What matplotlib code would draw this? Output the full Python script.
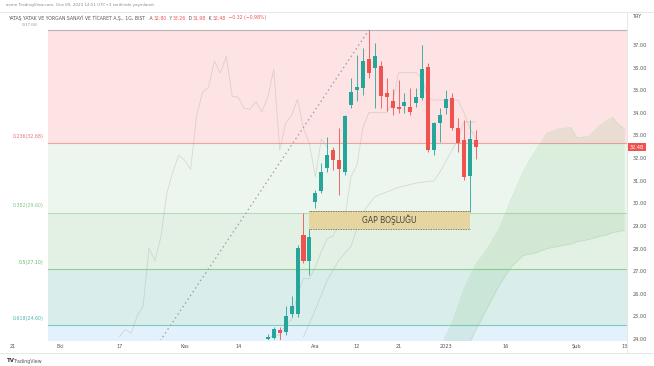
import numpy as np
import pandas as pd
import matplotlib
matplotlib.use("Agg")
import matplotlib.pyplot as plt
import matplotlib.transforms as mtransforms
from matplotlib.lines import Line2D

W, H = 654, 366

# one bar per trading day, bar 0 = 2022-09-21
dates = pd.bdate_range("2022-09-21", "2023-03-31")

tick_dates = ["2022-09-21", "2022-10-03", "2022-10-17", "2022-11-01", "2022-11-14",
              "2022-12-01", "2022-12-12", "2022-12-21", "2023-01-02", "2023-01-16",
              "2023-02-01", "2023-02-13"]
tick_labels = ["21", "Eki", "17", "Kas", "14", "Ara", "12", "21", "2023", "16", "Şub", "13"]

# visible candles, 2022-11-21 .. 2023-01-09
first_date = "2022-11-21"
opens = [23.98, 24.05, 24.42, 24.30, 25.12, 25.10, 28.60, 27.45, 30.05, 30.55, 31.56, 32.35,
         31.91, 31.39, 34.36, 35.02, 35.10, 36.39, 36.00, 36.06, 34.88, 34.52, 34.27, 34.30,
         34.27, 34.42, 34.64, 36.01, 32.35, 33.54, 34.20, 34.64, 33.31, 32.80, 31.20, 32.80]
highs = [24.20, 24.55, 24.52, 25.45, 25.90, 28.15, 29.55, 28.86, 30.58, 31.78, 32.94, 32.50,
         33.33, 33.90, 35.54, 36.57, 36.87, 37.66, 37.09, 36.29, 35.54, 35.05, 35.45, 34.88,
         35.10, 35.10, 37.00, 36.19, 33.60, 34.21, 35.00, 34.86, 33.76, 33.68, 33.68, 33.26]
lows = [23.80, 23.98, 23.95, 24.17, 24.98, 24.96, 27.35, 26.82, 29.80, 30.45, 31.39, 31.47,
        30.36, 31.25, 34.21, 34.52, 34.80, 35.54, 34.20, 34.20, 34.08, 33.90, 34.00, 33.99,
        33.90, 34.27, 34.57, 32.28, 32.13, 32.72, 33.96, 33.24, 32.28, 31.03, 29.60, 31.98]
closes = [24.10, 24.43, 24.25, 25.02, 25.45, 28.02, 27.45, 28.52, 30.45, 31.39, 32.13, 31.91,
          31.50, 33.86, 34.92, 35.13, 36.29, 35.76, 36.50, 34.73, 34.69, 34.20, 34.17, 34.49,
          34.05, 34.71, 35.92, 32.35, 33.54, 33.90, 34.60, 33.31, 32.65, 31.17, 32.83, 32.48]

# ichimoku base line and cloud spans (already shifted forward)
kijun_bar = [49, 51, 53, 55, 57, 58, 59, 61, 65, 68, 71, 72, 74, 75, 76, 78]
kijun_val = [24.1, 25.3, 26.6, 27.5, 28.1, 28.9, 29.6, 30.3, 30.7, 30.9, 31.0, 31.4, 32.35,
             32.8, 33.6, 33.6]
cloud_bar = [72, 74, 76, 78, 80, 82, 84, 86, 88, 90, 92, 94, 95, 97, 99, 100, 101, 102, 103]
span_a = [23.6, 24.7, 26.2, 27.3, 28.0, 28.9, 30.2, 31.4, 32.3, 33.1, 33.3, 33.35, 32.9, 32.95,
          33.45, 33.65, 33.8, 33.5, 33.3]
span_b = [21.5, 22.4, 23.3, 24.4, 25.4, 26.4, 27.2, 27.7, 27.8, 28.0, 28.1, 28.2, 28.3, 28.4,
          28.55, 28.6, 28.7, 28.75, 28.8]

# fibonacci retracement
fib_low, fib_low_date = 16.54, "2022-09-29"
fib_high, fib_high_date = 37.66, "2022-12-14"
fib_levels = [0, 0.236, 0.382, 0.5, 0.618, 0.786]
fib_fill = ["#fde3e3", "#edf6ee", "#e3f1e5", "#d9eeea", "#e2f1fb"]
fib_line = ["#b5b5b5", "#f0a3a3", "#b5dcb7", "#8fcf92", "#7fcbc3"]
fib_text = ["#9e9e9e", "#e57373", "#81c784", "#66bb6a", "#4db6ac"]

# gap box
gap_start, gap_end = "2022-11-30", "2023-01-06"
gap_top, gap_bottom = 29.65, 28.86

last_price = 32.48
UP, DOWN = "#26a69a", "#ef5350"


def bar_of(d):
    return dates.get_loc(pd.Timestamp(d))


fig = plt.figure(figsize=(W / 100, H / 100), dpi=100)
ax = fig.add_axes([0 / W, 1 - 340 / H, 627 / W, (340 - 12) / H])
ax.set_xlim(-2.09, 103.46)
ax.set_ylim(23.956, 38.46)
for s in ax.spines.values():
    s.set_visible(False)

x_right = 103.46
f0 = bar_of(fib_low_date)
f1 = bar_of(fib_high_date)
rng = fib_high - fib_low
prices = [fib_high - lv * rng for lv in fib_levels]
for i in range(len(fib_levels) - 1):
    ax.fill_between([f0, x_right], prices[i + 1], prices[i], color=fib_fill[i], lw=0, zorder=0)
for i in range(len(fib_levels) - 1):
    ax.plot([f0, x_right], [prices[i]] * 2, color=fib_line[i], lw=0.8, zorder=1)
    if i == 0:
        continue  # top label sits under the legend line, drawn below
    shown = round(prices[i] / 0.02) * 0.02
    lab = f"{fib_levels[i]:g}({shown:.2f})"
    ax.text(f0 - 0.8, prices[i] + 0.18, lab, color=fib_text[i], fontsize=3.4,
            ha="right", va="bottom", zorder=6)

# cloud
ax.fill_between(cloud_bar, span_b, span_a, color="#43a047", alpha=0.10, lw=0, zorder=2)
ax.plot(cloud_bar, span_a, color="#a5d6a7", lw=0.5, alpha=0.5, zorder=2)
ax.plot(cloud_bar, span_b, color="#a5d6a7", lw=0.5, alpha=0.5, zorder=2)

n0 = bar_of(first_date)
idx = np.arange(n0, n0 + len(closes))
o, h, l, c = map(np.array, (opens, highs, lows, closes))

# conversion line, base line, lagging span
tenkan = (pd.Series(h).rolling(9, min_periods=1).max() + pd.Series(l).rolling(9, min_periods=1).min()) / 2
ax.plot(idx, tenkan, color="#9e9e9e", lw=0.6, alpha=0.32, zorder=3)
ax.plot(kijun_bar, kijun_val, color="#9e9e9e", lw=0.6, alpha=0.32, zorder=3)
ax.plot(idx - 25, c, color="#9e9e9e", lw=0.6, alpha=0.32, zorder=3)

# fib trend line
ax.plot([f0, f1], [fib_low, fib_high], color="#9e9e9e", lw=0.9, ls=(0, (1.2, 2.4)), zorder=4)

# gap box
g0, g1 = bar_of(gap_start), bar_of(gap_end)
ax.fill_between([g0, g1], gap_bottom, gap_top, color="#e6d59f", lw=0, zorder=4)
ax.plot([g0, g1], [gap_top] * 2, color="#555555", lw=0.6, ls=(0, (1, 1)), zorder=4)
ax.plot([g0, g1], [gap_bottom] * 2, color="#555555", lw=0.6, ls=(0, (1, 1)), zorder=4)
ax.text((g0 + g1) / 2, (gap_top + gap_bottom) / 2, "GAP BOŞLUĞU", fontsize=5.5,
        color="#444444", ha="center", va="center", zorder=6)

# candles
col = np.where(c >= o, UP, DOWN)
ax.vlines(idx, l, h, colors=col, lw=0.6, zorder=5)
body_lo = np.minimum(o, c)
body_h = np.maximum(np.abs(c - o), 0.06)
ax.bar(idx, body_h, bottom=body_lo, width=0.68, color=col, lw=0, zorder=5)

# axes ticks
ax.set_xticks([bar_of(d) for d in tick_dates])
ax.set_xticklabels(tick_labels)
ax.yaxis.tick_right()
ax.set_yticks(np.arange(24, 38, 1.0))
ax.set_yticklabels([f"{v:.2f}" for v in np.arange(24, 38, 1.0)])
ax.tick_params(axis="both", length=0, labelsize=3.6, labelcolor="#555555")
ax.tick_params(axis="x", pad=3)
ax.tick_params(axis="y", pad=4)

# last price tag
tr = mtransforms.blended_transform_factory(ax.transAxes, ax.transData)
ax.text(1.004, last_price, f"{last_price:.2f}", transform=tr, fontsize=3.6, color="white",
        ha="left", va="center", zorder=7, clip_on=False,
        bbox=dict(boxstyle="square,pad=0.35", fc=DOWN, ec="none"))

# frame lines
for seg in [((0, 654), (12, 12)), ((627, 627), (12, 353)), ((0, 654), (353, 353))]:
    fig.add_artist(Line2D([x / W for x in seg[0]], [1 - y / H for y in seg[1]],
                          color="#e3e3e3", lw=0.6))

fig.text(6 / W, 1 - 5 / H, "asmn TradingView.com, Oca 09, 2023 14:51 UTC+3 tarihinde yayınlandı",
         fontsize=3.0, color="#8a8a8a", va="center")
fig.text(632 / W, 1 - 16 / H, "TRY", fontsize=3.6, color="#555555", va="center")
fig.text(7 / W, 1 - 361 / H, "TV", fontsize=4, color="#333333", va="center", fontweight="bold")
fig.text(14 / W, 1 - 361 / H, "TradingView", fontsize=3.4, color="#555555", va="center")

# legend line with OHLC values
segments = [("YATAŞ YATAK VE YORGAN SANAYİ VE TİCARET A.Ş., 1G, BIST ", "#555555"),
            (" A", "#555555"), ("32.80", DOWN), (" Y", "#555555"), ("33.26", DOWN),
            (" D", "#555555"), ("31.98", DOWN), (" K", "#555555"), ("32.48", DOWN),
            (" −0.32 (−0.98%)", DOWN)]
renderer = fig.canvas.get_renderer()
x = 8.0
for txt, color in segments:
    t = fig.text(x / W, 1 - 18 / H, txt, fontsize=3.3, color=color, va="center", ha="left")
    bb = t.get_window_extent(renderer)
    x = bb.x1 + 1.0
fig.text(22 / W, 1 - 25.5 / H, "0(37.66)", fontsize=2.8, color="#9e9e9e", va="center")

fig.savefig("out.png", dpi=100, facecolor="white")
